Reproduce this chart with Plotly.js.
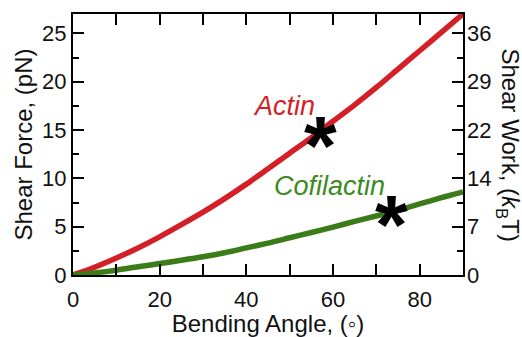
<!DOCTYPE html>
<html>
<head>
<meta charset="utf-8">
<script src="https://cdn.plot.ly/plotly-3.0.1.min.js"></script>
<style>
  html, body { margin: 0; padding: 0; background: #fff; }
  #chart { width: 522px; height: 337px; }
</style>
</head>
<body>
<div id="chart"></div>
<script>
// ---- data ----
var bendingAngle = [0, 5, 10, 15, 20, 25, 30, 35, 40, 45, 50, 55, 60, 65, 70, 75, 80, 85, 90];
var actinForce = [0, 0.8, 1.75, 2.8, 3.95, 5.2, 6.5, 7.9, 9.4, 11.0, 12.6, 14.2, 15.9, 17.6, 19.4, 21.3, 23.2, 25.1, 27.0];
var cofilactinForce = [0, 0.22, 0.5, 0.85, 1.18, 1.52, 1.88, 2.3, 2.8, 3.3, 3.85, 4.4, 4.95, 5.55, 6.1, 6.7, 7.35, 8.0, 8.6];
var starAngle = [57, 73.5];
var starForce = [14.8, 6.6];
var seriesNames = ['Actin', 'Cofilactin'];
var labelAngle = [48.8, 59.2];
var labelForce = [17.5, 9.2];
var forceTickVals = [0, 5, 10, 15, 20, 25];
var workTickLabels = ['0', '7', '14', '22', '29', '36'];
var xTickVals = [0, 20, 40, 60, 80];

var FONT = 'Liberation Sans, Arial, sans-serif';
var RED = '#d41f26';
var GREEN = '#3b7b18';
var LABEL_GREEN = '#3d8a22';
var INK = '#111111';

var traces = [
  { x: bendingAngle, y: actinForce, mode: 'lines', name: seriesNames[0],
    line: { color: RED, width: 5.5, shape: 'spline', smoothing: 0.8 }, hoverinfo: 'skip' },
  { x: bendingAngle, y: cofilactinForce, mode: 'lines', name: seriesNames[1],
    line: { color: GREEN, width: 5.5, shape: 'spline', smoothing: 0.8 }, hoverinfo: 'skip' },
  // carrier for the right-hand (work) axis; draws nothing visible
  { x: bendingAngle, y: actinForce, yaxis: 'y2', mode: 'lines', name: 'work axis',
    line: { color: 'rgba(0,0,0,0)', width: 0 }, hoverinfo: 'skip', showlegend: false }
];

var annotations = [];
for (var i = 0; i < starAngle.length; i++) {
  annotations.push({
    x: starAngle[i], y: starForce[i], xref: 'x', yref: 'y',
    text: '<b>*</b>', showarrow: false, xanchor: 'center', yanchor: 'middle',
    yshift: -14, font: { family: FONT, size: 84, color: '#000' }
  });
}
annotations.push({ x: labelAngle[0], y: labelForce[0], xref: 'x', yref: 'y', text: '<i>' + seriesNames[0] + '</i>',
  showarrow: false, xanchor: 'center', yanchor: 'middle', font: { family: FONT, size: 27, color: RED } });
annotations.push({ x: labelAngle[1], y: labelForce[1], xref: 'x', yref: 'y', text: '<i>' + seriesNames[1] + '</i>',
  showarrow: false, xanchor: 'center', yanchor: 'middle', font: { family: FONT, size: 27, color: LABEL_GREEN } });
annotations.push({ x: 1, y: 0.5, xref: 'paper', yref: 'paper', xshift: 45,
  text: 'Shear Work, (<i>k</i><sub>B</sub>T)', textangle: 90, showarrow: false,
  xanchor: 'center', yanchor: 'middle', font: { family: FONT, size: 24, color: INK } });

var axisCommon = {
  showline: true, linecolor: '#000', linewidth: 2, mirror: 'allticks',
  ticks: 'inside', ticklen: 11, tickwidth: 2, tickcolor: '#000',
  showgrid: false, zeroline: false, fixedrange: true,
  tickfont: { family: FONT, size: 22, color: INK }
};

var layout = {
  width: 522, height: 337,
  margin: { l: 73, r: 59, t: 14, b: 62, pad: 0 },
  paper_bgcolor: '#fff', plot_bgcolor: '#fff',
  showlegend: false,
  font: { family: FONT, color: INK },
  xaxis: Object.assign({}, axisCommon, {
    range: [0, 90], tickmode: 'array', tickvals: xTickVals,
    ticklabelstandoff: 4,
    minor: { dtick: 10, tick0: 0, ticks: 'inside', ticklen: 6, tickwidth: 2, tickcolor: '#000', showgrid: false },
    title: { text: 'Bending Angle, (◦)', font: { family: FONT, size: 24, color: INK }, standoff: 4 }
  }),
  yaxis: Object.assign({}, axisCommon, {
    range: [0, 27], tickmode: 'array', tickvals: forceTickVals,
    minor: { dtick: 2.5, tick0: 0, ticks: 'inside', ticklen: 6, tickwidth: 2, tickcolor: '#000', showgrid: false },
    title: { text: 'Shear Force, (pN)', font: { family: FONT, size: 24, color: INK }, standoff: 3 }
  }),
  yaxis2: {
    overlaying: 'y', side: 'right', range: [0, 27], tickmode: 'array',
    tickvals: forceTickVals, ticktext: workTickLabels,
    showline: false, ticks: '', showgrid: false, zeroline: false, fixedrange: true,
    ticklabelstandoff: 3,
    tickfont: { family: FONT, size: 22, color: INK }
  },
  annotations: annotations
};

Plotly.newPlot('chart', traces, layout, { staticPlot: true, displayModeBar: false });
</script>
</body>
</html>
